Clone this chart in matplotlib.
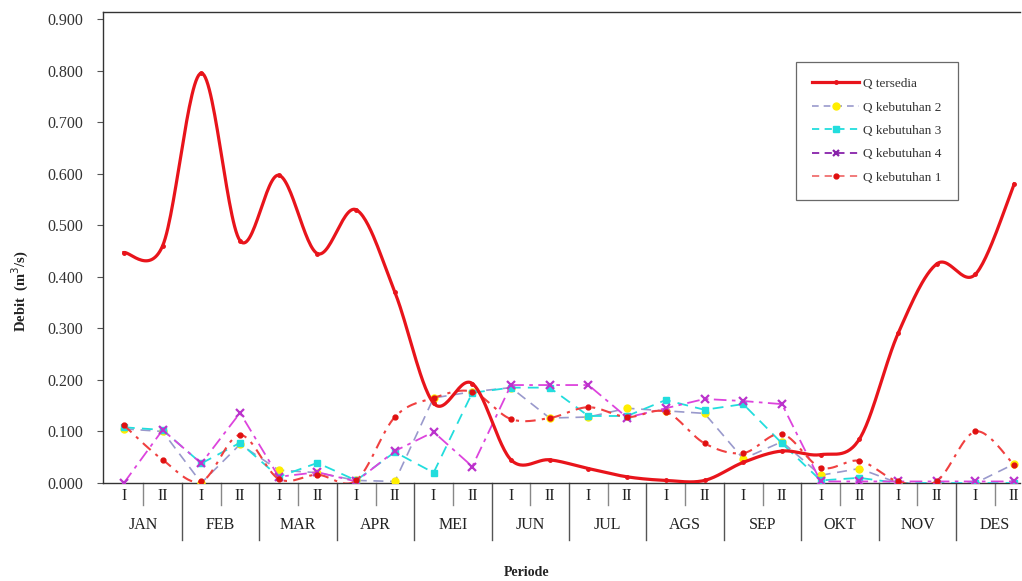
import numpy as np
import matplotlib.pyplot as plt
from matplotlib.lines import Line2D

plt.rcParams['font.family'] = ['Liberation Serif', 'DejaVu Serif']

# data debit per periode (setengah bulan)
bulan = ['JAN', 'FEB', 'MAR', 'APR', 'MEI', 'JUN', 'JUL', 'AGS', 'SEP', 'OKT', 'NOV', 'DES']
periode = ['I', 'II']

q_tersedia = [0.447, 0.460, 0.795, 0.470, 0.597, 0.445, 0.530, 0.370, 0.155, 0.193, 0.045, 0.045,
              0.028, 0.012, 0.005, 0.005, 0.040, 0.062, 0.055, 0.085, 0.290, 0.425, 0.405, 0.580]
q_keb1 = [0.112, 0.045, 0.003, 0.093, 0.008, 0.016, 0.005, 0.128, 0.165, 0.177, 0.124, 0.126,
          0.147, 0.128, 0.138, 0.077, 0.058, 0.095, 0.030, 0.043, 0.003, 0.004, 0.100, 0.035]
q_keb2 = [0.105, 0.100, 0.000, 0.075, 0.025, 0.020, 0.005, 0.003, 0.165, 0.177, 0.185, 0.126,
          0.128, 0.145, 0.140, 0.135, 0.047, 0.080, 0.015, 0.028, 0.000, 0.000, 0.000, 0.037]
q_keb3 = [0.108, 0.103, 0.038, 0.078, 0.012, 0.039, 0.005, 0.060, 0.020, 0.175, 0.185, 0.185,
          0.130, 0.130, 0.161, 0.142, 0.153, 0.077, 0.005, 0.010, 0.000, 0.000, 0.000, 0.000]
q_keb4 = [0.000, 0.103, 0.038, 0.136, 0.012, 0.021, 0.003, 0.062, 0.099, 0.032, 0.190, 0.190,
          0.190, 0.127, 0.145, 0.163, 0.159, 0.153, 0.003, 0.003, 0.003, 0.003, 0.003, 0.003]

x = np.arange(len(q_tersedia))


def smooth(xs, ys, n=30):
    # garis halus ala Excel (Catmull-Rom -> Bezier)
    xs = np.asarray(xs, float)
    ys = np.asarray(ys, float)
    px = np.concatenate([[xs[0]], xs, [xs[-1]]])
    py = np.concatenate([[ys[0]], ys, [ys[-1]]])
    outx, outy = [], []
    t = np.linspace(0, 1, n)
    for i in range(1, len(px) - 2):
        p0 = np.array([px[i - 1], py[i - 1]])
        p1 = np.array([px[i], py[i]])
        p2 = np.array([px[i + 1], py[i + 1]])
        p3 = np.array([px[i + 2], py[i + 2]])
        c1 = p1 + (p2 - p0) / 6
        c2 = p2 - (p3 - p1) / 6
        b = ((1 - t) ** 3)[:, None] * p1 + (3 * (1 - t) ** 2 * t)[:, None] * c1 \
            + (3 * (1 - t) * t ** 2)[:, None] * c2 + (t ** 3)[:, None] * p2
        outx.extend(b[:, 0])
        outy.extend(b[:, 1])
    return np.array(outx), np.array(outy)


fig = plt.figure(figsize=(10.22, 5.81), dpi=100)
ax = fig.add_axes([103 / 1022, 98 / 581, 917 / 1022, 471 / 581])

c_tersedia = '#E8141B'
c_keb1 = '#F04040'
c_keb2 = '#9999CC'
c_keb3 = '#22DDDD'
c_keb4 = '#DD44DD'

# Q tersedia
sx, sy = smooth(x, q_tersedia)
ax.plot(sx, sy, color=c_tersedia, lw=2.3, zorder=6)
ax.plot(x, q_tersedia, 'o', color=c_tersedia, ms=2.5, zorder=6)

# Q kebutuhan 2
ax.plot(x, q_keb2, color=c_keb2, lw=1.2, ls=(0, (6, 4)), zorder=3)
ax.plot(x, q_keb2, 'o', color='#FFEE00', ms=5, zorder=3)

# Q kebutuhan 3
ax.plot(x, q_keb3, color=c_keb3, lw=1.3, ls=(0, (6, 4)), zorder=4)
ax.plot(x, q_keb3, 's', color=c_keb3, ms=4, zorder=4)

# Q kebutuhan 4
ax.plot(x, q_keb4, color=c_keb4, lw=1.3, ls=(0, (7, 3, 2, 3)), zorder=4)
ax.plot(x, q_keb4, 'x', color='#BB33CC', ms=6, mew=1.6, zorder=4)

# Q kebutuhan 1
kx, ky = smooth(x, q_keb1)
ax.plot(kx, ky, color=c_keb1, lw=1.5, ls=(0, (5, 3, 1.5, 3)), zorder=5)
ax.plot(x, q_keb1, 'o', color='#E01010', ms=3.5, zorder=5)

ax.set_xlim(-0.54, 23.15)
ax.set_ylim(0, 0.9136)
ax.set_yticks(np.arange(0, 0.91, 0.1))
ax.set_yticklabels([f'{v:.3f}' for v in np.arange(0, 0.91, 0.1)], fontsize=11.5, color='#333333')
ax.tick_params(axis='y', direction='out', length=4, width=0.8, color='#555555', pad=10)
ax.set_xticks([])
ax.spines['right'].set_visible(False)
for s in ['left', 'top', 'bottom']:
    ax.spines[s].set_color('#333333')
    ax.spines[s].set_linewidth(1.0)

# label sumbu x dua tingkat
trans = ax.get_xaxis_transform()
for i in range(len(x)):
    ax.text(i, -0.027, periode[i % 2], transform=trans, ha='center', va='center',
            fontsize=11.5, color='#222222')
for m, nama in enumerate(bulan):
    ax.text(2 * m + 0.5, -0.089, nama, transform=trans, ha='center', va='center',
            fontsize=11.5, color='#222222')
    ax.plot([2 * m + 0.5] * 2, [0, -0.047], transform=trans, color='#888888',
            lw=1.0, clip_on=False)
    if m > 0:
        ax.plot([2 * m - 0.5] * 2, [0, -0.121], transform=trans, color='#555555',
                lw=1.0, clip_on=False)

fig.text(527 / 1022, 2 / 581, 'Periode', ha='center', va='bottom', fontsize=10,
         fontweight='bold', color='#222222')
fig.text(20 / 1022, 290 / 581, 'Debit  (m$^3$/s)', rotation=90, ha='center', va='center',
         fontsize=10.5, fontweight='bold', color='#222222')

handles = [
    Line2D([], [], color=c_tersedia, lw=2.3, marker='o', ms=2.5),
    Line2D([], [], color=c_keb2, lw=1.2, ls=(0, (4, 3)), marker='o', ms=5,
           mfc='#FFEE00', mec='#FFEE00'),
    Line2D([], [], color=c_keb3, lw=1.3, ls=(0, (4, 3)), marker='s', ms=4),
    Line2D([], [], color='#8822AA', lw=1.3, ls=(0, (4, 3)), marker='x', ms=5, mew=1.6),
    Line2D([], [], color='#F07070', lw=1.3, ls=(0, (4, 3)), marker='o', ms=3.5,
           mfc='#E01010', mec='#E01010'),
]
labels = ['Q tersedia', 'Q kebutuhan 2', 'Q kebutuhan 3', 'Q kebutuhan 4', 'Q kebutuhan 1']
leg = ax.legend(handles, labels, loc='upper left', bbox_to_anchor=((796 - 103) / 917, (483 - 62) / 471),
                fontsize=9.5, frameon=True, fancybox=False, edgecolor='#444444',
                handlelength=3.6, labelspacing=0.85, borderpad=1.2, borderaxespad=0,
                handletextpad=0.3)
leg.get_frame().set_linewidth(0.9)
for t in leg.get_texts():
    t.set_color('#333333')

fig.savefig('out.png', dpi=100, facecolor='white')
